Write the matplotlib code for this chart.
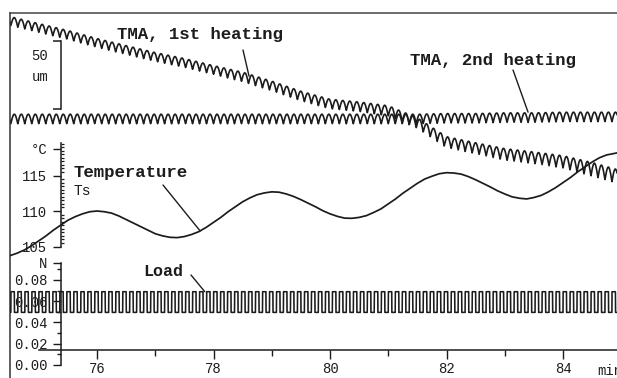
import numpy as np
import matplotlib
matplotlib.use("Agg")
import matplotlib.pyplot as plt
from matplotlib.ticker import FixedLocator, FixedFormatter, NullFormatter

# temperature Ts, every 0.125 min
temp_time = [74.5, 74.625, 74.75, 74.875, 75.0, 75.125, 75.25, 75.375, 75.5, 75.625,
             75.75, 75.875, 76.0, 76.125, 76.25, 76.375, 76.5, 76.625, 76.75, 76.875,
             77.0, 77.125, 77.25, 77.375, 77.5, 77.625, 77.75, 77.875, 78.0, 78.125,
             78.25, 78.375, 78.5, 78.625, 78.75, 78.875, 79.0, 79.125, 79.25, 79.375,
             79.5, 79.625, 79.75, 79.875, 80.0, 80.125, 80.25, 80.375, 80.5, 80.625,
             80.75, 80.875, 81.0, 81.125, 81.25, 81.375, 81.5, 81.625, 81.75, 81.875,
             82.0, 82.125, 82.25, 82.375, 82.5, 82.625, 82.75, 82.875, 83.0, 83.125,
             83.25, 83.375, 83.5, 83.625, 83.75, 83.875, 84.0, 84.125, 84.25, 84.375,
             84.5, 84.625, 84.75, 84.875, 85.0]
temp_ts = [103.7, 104.05, 104.5, 105.1, 105.8, 106.5, 107.3, 108.0, 108.7, 109.2,
           109.6, 109.9, 110.0, 109.9, 109.7, 109.3, 108.8, 108.3, 107.8, 107.3,
           106.8, 106.5, 106.3, 106.25, 106.4, 106.7, 107.1, 107.7, 108.4, 109.1,
           109.9, 110.6, 111.3, 111.85, 112.3, 112.55, 112.7, 112.65, 112.4, 112.05,
           111.6, 111.1, 110.6, 110.05, 109.6, 109.25, 109.0, 108.97, 109.1, 109.35,
           109.8, 110.3, 111.0, 111.7, 112.5, 113.2, 113.9, 114.5, 114.9, 115.25,
           115.4, 115.35, 115.2, 114.85, 114.4, 113.9, 113.4, 112.85, 112.4, 112.0,
           111.8, 111.7, 111.9, 112.2, 112.7, 113.3, 114.0, 114.7, 115.5, 116.2,
           116.9, 117.5, 117.9, 118.1, 118.3]

# TMA traces (um, relative to 2nd heating), mean level and peak-to-peak
tma_time = [74.5, 75.0, 75.5, 76.0, 76.5, 77.0, 77.5, 78.0, 78.5, 79.0, 79.5,
            80.0, 80.5, 81.0, 81.5, 82.0, 82.5, 83.0, 83.5, 84.0, 84.5, 85.0]
tma1_mean = [72.1, 66.9, 61.8, 55.9, 50.7, 45.6, 41.2, 36.0, 30.9, 24.3, 16.9,
             11.0, 9.0, 6.0, -3.0, -17.0, -21.5, -26.0, -28.5, -31.5, -37.0, -43.0]
tma1_pp = [6.5, 6.5, 6.5, 6.5, 6.5, 6.5, 6.5, 6.5, 7.0, 7.0, 7.0,
           7.0, 7.0, 7.5, 7.5, 8.0, 8.0, 8.5, 8.5, 9.0, 10.0, 10.0]
tma2_mean = [0.0, 0.0, 0.0, 0.0, 0.0, 0.0, 0.0, 0.0, 0.0, 0.0, 0.0,
             0.0, 0.0, 0.0, 0.0, 0.5, 0.5, 1.0, 1.0, 1.5, 1.5, 1.5]
tma2_pp = [7.0] * len(tma_time)

# modulated load (N)
load_high = 0.069
load_low = 0.0495
mod_period = 0.12  # min

x_ticks = [76, 78, 80, 82, 84]
x_minor = [77, 79, 81, 83]
temp_ticks = [105, 110, 115, 118.8]
temp_labels = ["105", "110", "115", "°C"]
load_ticks = [0.0, 0.02, 0.04, 0.06, 0.08, 0.096]
load_labels = ["0.00", "0.02", "0.04", "0.06", "0.08", "N"]

plt.rcParams["font.family"] = ["Liberation Mono", "DejaVu Sans"]
plt.rcParams["font.size"] = 10

W, H = 617, 378
fig = plt.figure(figsize=(W / 100, H / 100), dpi=100)
rect = [10 / W, 0, 607 / W, 365 / H]
X0, X1 = 74.506, 84.927
AXIS_T = 75.382
ink = "#1c1c1c"


def layer(name, ylim):
    a = fig.add_axes(rect, label=name)
    a.patch.set_visible(False)
    for s in a.spines.values():
        s.set_visible(False)
        s.set_color(ink)
        s.set_linewidth(1.1)
    a.set_xlim(X0, X1)
    a.set_ylim(*ylim)
    a.tick_params(left=False, bottom=False, labelleft=False, labelbottom=False,
                  which="both", color=ink, width=1.0, labelcolor=ink)
    return a


def fxy(x, y):
    return x / W, 1 - y / H


t = np.linspace(X0 - 0.05, X1 + 0.05, 8000)
wave = np.abs(np.sin(np.pi * t / mod_period)) - 0.5

# frame + TMA
ax_tma = layer("tma", (-190.4, 77.9))
ax_tma.spines["left"].set_visible(True)
ax_tma.spines["top"].set_visible(True)
ax_tma.spines["left"].set_color("#333333")
ax_tma.spines["top"].set_color("#444444")
tma1 = np.interp(t, tma_time, tma1_mean) + np.interp(t, tma_time, tma1_pp) * wave
tma2 = np.interp(t, tma_time, tma2_mean) + np.interp(t, tma_time, tma2_pp) * wave
ax_tma.plot(t, tma1, color=ink, lw=1.2)
ax_tma.plot(t, tma2, color=ink, lw=1.2)

# 50 um scale bar
ax_bar = layer("bar", (-190.4, 77.9))
ax_bar.spines["left"].set_visible(True)
ax_bar.spines["left"].set_position(("data", AXIS_T))
ax_bar.spines["left"].set_bounds(7.35, 57.35)
ax_bar.yaxis.set_major_locator(FixedLocator([7.35, 57.35]))
ax_bar.tick_params(axis="y", left=True, direction="out", length=6, width=1.1)
fig.text(*fxy(40, 56), "50", ha="center", va="center", color=ink)
fig.text(*fxy(40, 77), "um", ha="center", va="center", color=ink)

# temperature
ax_temp = layer("temp", (86.48, 137.89))
ax_temp.plot(temp_time, temp_ts, color=ink, lw=1.25)
sp = ax_temp.spines["left"]
sp.set_visible(True)
sp.set_position(("data", AXIS_T))
sp.set_bounds(104.9, 119.6)
ax_temp.yaxis.set_major_locator(FixedLocator(temp_ticks))
ax_temp.yaxis.set_major_formatter(FixedFormatter(temp_labels))
ax_temp.yaxis.set_minor_locator(FixedLocator([v / 2 for v in range(210, 240)]))
ax_temp.yaxis.set_minor_formatter(NullFormatter())
ax_temp.tick_params(axis="y", which="major", left=True, labelleft=True,
                    direction="out", length=6, pad=4)
ax_temp.tick_params(axis="y", which="minor", left=True, direction="in",
                    length=2.5, width=0.9)

# load
ax_load = layer("load", (-0.01224, 0.3313))
load = np.where(((t / mod_period) % 1) < 0.5, load_high, load_low)
ax_load.plot(t + 0.004, load, color="#b0b0b0", lw=0.8)
ax_load.plot(t, load, color=ink, lw=1.1)
sp = ax_load.spines["left"]
sp.set_visible(True)
sp.set_position(("data", AXIS_T))
sp.set_bounds(0, 0.096)
ax_load.yaxis.set_major_locator(FixedLocator(load_ticks))
ax_load.yaxis.set_major_formatter(FixedFormatter(load_labels))
ax_load.yaxis.set_minor_locator(FixedLocator([0.01, 0.03, 0.05, 0.07, 0.09]))
ax_load.yaxis.set_minor_formatter(NullFormatter())
ax_load.tick_params(axis="y", which="major", left=True, labelleft=True,
                    direction="out", length=6, pad=4)
ax_load.tick_params(axis="y", which="minor", left=True, direction="out",
                    length=3)
sp = ax_load.spines["bottom"]
sp.set_visible(True)
sp.set_position(("data", 0.0141))
sp.set_bounds(75.0, X1)
ax_load.xaxis.set_major_locator(FixedLocator(x_ticks))
ax_load.xaxis.set_minor_locator(FixedLocator(x_minor))
ax_load.xaxis.set_minor_formatter(NullFormatter())
ax_load.tick_params(axis="x", which="major", bottom=True, labelbottom=True,
                    direction="out", length=6.5, pad=2)
ax_load.tick_params(axis="x", which="minor", bottom=True, direction="out",
                    length=4.3)
fig.text(*fxy(597, 371), "min", ha="left", va="center", color=ink)

# labels with leader lines
lab = dict(fontsize=12.5, fontweight="bold", color=ink, va="center", ha="left")
lead = dict(arrowstyle="-", color=ink, lw=1.0, shrinkA=0, shrinkB=0)

fig.text(*fxy(117, 35), "TMA, 1st heating", **lab)
tx = 78.61
ax_tma.annotate("", xy=(tx, np.interp(tx, tma_time, tma1_mean) + 2),
                xytext=fxy(243, 50), textcoords="figure fraction", arrowprops=lead)

fig.text(*fxy(410, 60), "TMA, 2nd heating", **lab)
tx = 83.40
ax_tma.annotate("", xy=(tx, np.interp(tx, tma_time, tma2_mean) + 4),
                xytext=fxy(513, 70), textcoords="figure fraction", arrowprops=lead)

fig.text(*fxy(73, 172), "Temperature", **lab)
fig.text(*fxy(73, 191), "Ts", ha="left", va="center", color=ink, fontsize=10.5)
tx = 77.77
ax_temp.annotate("", xy=(tx, np.interp(tx, temp_time, temp_ts)),
                 xytext=fxy(163, 185), textcoords="figure fraction", arrowprops=lead)

fig.text(*fxy(143, 271), "Load", **dict(lab, fontsize=12))
tx = 77.85
ax_load.annotate("", xy=(tx, load_high), xytext=fxy(191, 275),
                 textcoords="figure fraction", arrowprops=lead)

fig.savefig("out.png", dpi=100)
